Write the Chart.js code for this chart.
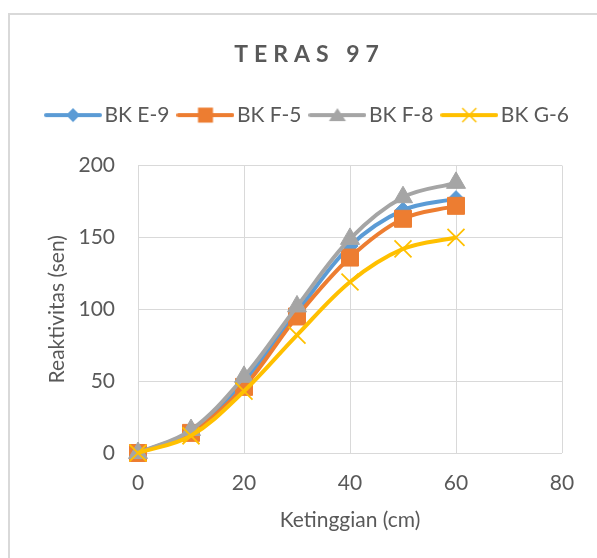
<!DOCTYPE html>
<html lang="en">
<head>
  <meta charset="UTF-8" />
  <title>TERAS 97</title>
  <script src="https://cdn.jsdelivr.net/npm/chart.js"></script>
  <style>
    html, body { margin: 0; padding: 0; background: #fff; }
    .wrap { width: 597px; height: 558px; }
  </style>
</head>
<body>
  <div class="wrap"><canvas id="chart" width="597" height="558"></canvas></div>
  <script>
    // data
    const ketinggian = [0, 10, 20, 30, 40, 50, 60];
    const bkE9 = [0, 15, 50, 98, 144, 169, 177];
    const bkF5 = [0, 14, 46, 95, 136, 163, 172];
    const bkF8 = [0, 16, 53, 102, 149, 178, 188];
    const bkG6 = [0, 12, 43, 82, 119, 142, 150];
    const seriesNames = ["BK E-9", "BK F-5", "BK F-8", "BK G-6"];
    const xTicks = [0, 20, 40, 60, 80];
    const yTicks = [0, 50, 100, 150, 200];

    const textColor = "#595959";
    const gridColor = "#d9d9d9";
    const colors = ["#5b9bd5", "#ed7d31", "#a5a5a5", "#ffc000"];
    const FONT = "Lato";

    function toPoints(ys) {
      return ketinggian.map((x, i) => ({ x: x, y: ys[i] }));
    }

    // legend icon: line with marker in the middle (like Excel)
    function legendIcon(color, shape) {
      const c = document.createElement("canvas");
      c.width = 58; c.height = 20;
      const g = c.getContext("2d");
      g.strokeStyle = color;
      g.fillStyle = color;
      g.lineWidth = 4;
      g.lineCap = "round";
      g.beginPath(); g.moveTo(2, 10); g.lineTo(56, 10); g.stroke();
      const cx = 29, cy = 10;
      g.beginPath();
      if (shape === "diamond") {
        g.moveTo(cx, cy - 7); g.lineTo(cx + 7, cy); g.lineTo(cx, cy + 7); g.lineTo(cx - 7, cy);
        g.closePath(); g.fill();
      } else if (shape === "square") {
        g.rect(cx - 7.5, cy - 7.5, 15, 15); g.fill();
      } else if (shape === "triangle") {
        g.moveTo(cx, cy - 7); g.lineTo(cx + 8.5, cy + 6); g.lineTo(cx - 8.5, cy + 6);
        g.closePath(); g.fill();
      } else {
        g.lineWidth = 1.5; g.lineCap = "butt";
        g.moveTo(cx - 7, cy - 7); g.lineTo(cx + 7, cy + 7);
        g.moveTo(cx + 7, cy - 7); g.lineTo(cx - 7, cy + 7);
        g.stroke();
      }
      return c;
    }
    const icons = [
      legendIcon(colors[0], "diamond"),
      legendIcon(colors[1], "square"),
      legendIcon(colors[2], "triangle"),
      legendIcon(colors[3], "x")
    ];

    const frame = {
      id: "frame",
      beforeDraw(chart) {
        const ctx = chart.ctx;
        ctx.save();
        ctx.fillStyle = "#fff";
        ctx.fillRect(0, 0, chart.width, chart.height);
        ctx.strokeStyle = gridColor;
        ctx.lineWidth = 2;
        ctx.strokeRect(9, 14, 700, 700);
        ctx.restore();
        // spaced-out title letters
        const tb = chart.titleBlock;
        if (tb && !tb._spaced) {
          const orig = tb.draw.bind(tb);
          tb.draw = function () {
            chart.ctx.save();
            chart.ctx.letterSpacing = "6px";
            chart.ctx.translate(-1, 0);
            orig();
            chart.ctx.restore();
          };
          tb._spaced = true;
        }
      }
    };

    const pointStyles = ["rectRot", "rect", "triangle", "crossRot"];
    const radii = [8, 12, 11, 12];
    const allSeries = [bkE9, bkF5, bkF8, bkG6];

    const datasets = allSeries.map((ys, i) => ({
      label: seriesNames[i],
      data: toPoints(ys),
      borderColor: colors[i],
      backgroundColor: colors[i],
      borderWidth: 4,
      tension: 0.35,
      clip: false,
      pointStyle: pointStyles[i],
      pointRadius: radii[i],
      pointHoverRadius: radii[i],
      pointBorderWidth: i === 3 ? 1.8 : 1,
      order: 4 - i
    }));

    new Chart(document.getElementById("chart"), {
      type: "line",
      data: { datasets: datasets },
      options: {
        responsive: false,
        animation: false,
        layout: { padding: { left: 24, right: 0, top: 0, bottom: 0 } },
        plugins: {
          title: {
            display: true,
            text: "TERAS 97",
            color: textColor,
            font: { family: FONT, size: 23, weight: "bold" },
            padding: { top: 41, bottom: 21 }
          },
          subtitle: {
            display: true,
            text: "",
            position: "top",
            weight: 500,
            font: { size: 1, lineHeight: 1 },
            padding: { top: 15, bottom: 14 }
          },
          legend: {
            position: "top",
            labels: {
              usePointStyle: true,
              pointStyleWidth: 42,
              padding: 15,
              color: textColor,
              font: { family: FONT, size: 21 },
              sort: (a, b) => a.datasetIndex - b.datasetIndex,
              generateLabels(chart) {
                const items = Chart.defaults.plugins.legend.labels.generateLabels(chart);
                items.forEach(it => { it.pointStyle = icons[it.datasetIndex]; it.rotation = 0; });
                return items;
              }
            }
          },
          tooltip: { enabled: false }
        },
        scales: {
          x: {
            type: "linear",
            min: 0,
            max: 80,
            afterBuildTicks: s => { s.ticks = xTicks.map(v => ({ value: v })); },
            afterFit: s => { s.height = 105; },
            grid: { color: gridColor, lineWidth: 1, drawTicks: false },
            border: { display: false },
            ticks: { color: textColor, font: { family: FONT, size: 21 }, padding: 18 },
            title: {
              display: true,
              text: "Ketinggian (cm)",
              color: textColor,
              font: { family: FONT, size: 21 },
              padding: { top: 0, bottom: 25 }
            }
          },
          y: {
            min: 0,
            max: 200,
            afterBuildTicks: s => { s.ticks = yTicks.map(v => ({ value: v })); },
            afterFit: s => { s.width = 114; },
            grid: { color: gridColor, lineWidth: 1, drawTicks: false },
            border: { display: false },
            ticks: { color: textColor, font: { family: FONT, size: 21 }, padding: 23 },
            title: {
              display: true,
              text: "Reaktivitas (sen)",
              color: textColor,
              font: { family: FONT, size: 21 },
              padding: { top: 21, bottom: 0 }
            }
          },
          yRight: {
            position: "right",
            afterFit: s => { s.width = 35; },
            grid: { display: false },
            border: { display: false },
            ticks: { display: false }
          }
        }
      },
      plugins: [frame]
    });
  </script>
</body>
</html>
